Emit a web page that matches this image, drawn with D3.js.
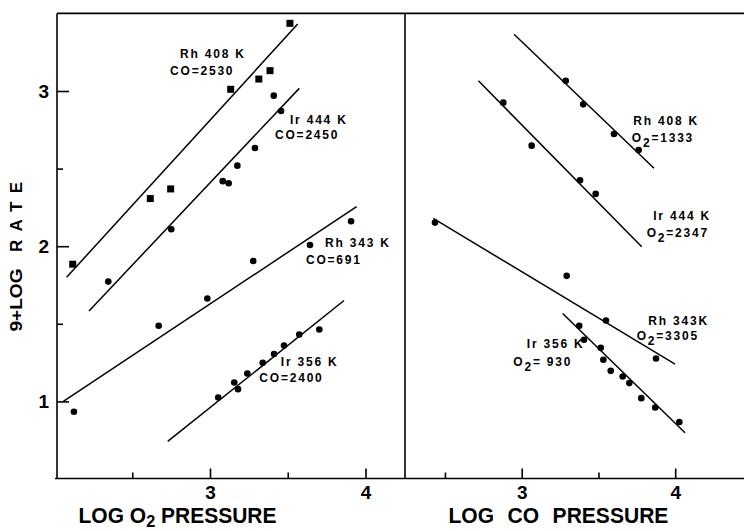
<!DOCTYPE html>
<html>
<head>
<meta charset="utf-8">
<script src="https://cdn.jsdelivr.net/npm/d3@7"></script>
<style>
  html, body { margin: 0; padding: 0; background: #fff; }
  svg { display: block; }
  text { font-family: "Liberation Sans", Arial, sans-serif; fill: #000; }
</style>
</head>
<body>
<svg id="chart" width="744" height="531"></svg>
<script>
// ---------- tick values ----------
const yTickVals = [1, 2, 3];
const yMinorVals = [1.5, 2.5];
const xTickVals = [3, 4];
const xMinorVals = [2.5, 3.5];

// ---------- left panel: log O2 pressure ----------
const o2RhHighX = [2.117, 2.616, 2.747, 3.133, 3.314, 3.386, 3.514];
const o2RhHighY = [1.884, 2.307, 2.369, 3.011, 3.077, 3.131, 3.436];
const o2RhHighFitX = [2.078, 3.564];
const o2RhHighFitY = [1.800, 3.431];

const o2IrHighX = [2.346, 2.751, 3.082, 3.120, 3.176, 3.289, 3.410, 3.457];
const o2IrHighY = [1.772, 2.109, 2.419, 2.406, 2.519, 2.633, 2.970, 2.871];
const o2IrHighFitX = [2.222, 3.574];
const o2IrHighFitY = [1.583, 3.017];

const o2RhLowX = [2.125, 2.670, 2.983, 3.278, 3.643, 3.907];
const o2RhLowY = [0.933, 1.487, 1.663, 1.905, 2.008, 2.161];
const o2RhLowFitX = [2.057, 3.943];
const o2RhLowFitY = [1.000, 2.255];

const o2IrLowX = [3.053, 3.156, 3.180, 3.240, 3.339, 3.412, 3.476, 3.574, 3.703];
const o2IrLowY = [1.025, 1.122, 1.079, 1.180, 1.249, 1.305, 1.360, 1.431, 1.463];
const o2IrLowFitX = [2.728, 3.862];
const o2IrLowFitY = [0.742, 1.650];

// ---------- right panel: log CO pressure ----------
const coRhHighX = [3.287, 3.401, 3.601, 3.762];
const coRhHighY = [3.066, 2.914, 2.723, 2.620];
const coRhHighFitX = [2.950, 3.862];
const coRhHighFitY = [3.366, 2.502];

const coIrHighX = [2.880, 3.065, 3.380, 3.482];
const coIrHighY = [2.925, 2.648, 2.425, 2.337];
const coIrHighFitX = [2.718, 3.782];
const coIrHighFitY = [3.066, 1.997];

const coRhLowX = [2.435, 3.293, 3.549, 3.875];
const coRhLowY = [2.152, 1.809, 1.521, 1.276];
const coRhLowFitX = [2.424, 3.999];
const coRhLowFitY = [2.179, 1.240];

const coIrLowX = [3.375, 3.406, 3.515, 3.532, 3.580, 3.658, 3.701, 3.779, 3.870, 4.027];
const coIrLowY = [1.487, 1.397, 1.345, 1.268, 1.197, 1.160, 1.118, 1.021, 0.961, 0.867];
const coIrLowFitX = [3.267, 4.064];
const coIrLowFitY = [1.566, 0.798];

// ---------- annotation texts (anchor in data units) ----------
const o2Labels = [
  { t: "Rh 408 K", x: 2.807, y: 3.211 },
  { t: "CO=2530", x: 2.743, y: 3.103 },
  { t: "Ir 444 K", x: 3.514, y: 2.788 },
  { t: "CO=2450", x: 3.418, y: 2.689 },
  { t: "Rh 343 K", x: 3.740, y: 1.997 },
  { t: "CO=691", x: 3.617, y: 1.886 },
  { t: "Ir 356 K", x: 3.455, y: 1.229 },
  { t: "CO=2400", x: 3.317, y: 1.122 }
];
const coLabels = [
  { t: "Rh 408 K", x: 3.727, y: 2.781 },
  { t: "O|2|=1333", x: 3.717, y: 2.674 },
  { t: "Ir 444 K", x: 3.857, y: 2.169 },
  { t: "O|2|=2347", x: 3.814, y: 2.062 },
  { t: "Rh 343K", x: 3.825, y: 1.493 },
  { t: "O|2|=3305", x: 3.749, y: 1.397 },
  { t: "Ir 356 K", x: 3.033, y: 1.343 },
  { t: "O|2|= 930", x: 2.945, y: 1.225 }
];

// ---------- scales ----------
const svg = d3.select("#chart");
const y = d3.scaleLinear().domain([0.5, 3.5]).range([479, 13.4]);
const xL = d3.scaleLinear().domain([3, 4]).range([210, 365.5]);
const xR = d3.scaleLinear().domain([3, 4]).range([521.7, 675.2]);

const leftEdge = 57, midEdge = 405, rightEdge = 744;
const topY = y(3.5), botY = y(0.5) - 0.5;

// ---------- frame ----------
const frame = svg.append("g").attr("stroke", "#000").attr("stroke-width", 1.6).attr("fill", "none");
frame.append("line").attr("x1", leftEdge).attr("x2", rightEdge).attr("y1", topY).attr("y2", topY);
frame.append("line").attr("x1", leftEdge).attr("x2", leftEdge).attr("y1", topY).attr("y2", botY);
frame.append("line").attr("x1", midEdge).attr("x2", midEdge).attr("y1", topY).attr("y2", botY);
frame.append("line").attr("x1", leftEdge - 2).attr("x2", rightEdge).attr("y1", botY).attr("y2", botY);

// ---------- axes ----------
function styleAxis(g, size) {
  g.select(".domain").remove();
  g.selectAll(".tick line").attr("stroke", "#000").attr("stroke-width", 1.6);
  g.selectAll(".tick text").attr("font-size", size).attr("font-weight", "bold")
    .attr("font-family", "'Liberation Sans', Arial, sans-serif");
}
// y axis
svg.append("g").attr("transform", `translate(${leftEdge},0)`)
  .call(d3.axisLeft(y).tickValues(yTickVals).tickSize(-12).tickPadding(8).tickFormat(d3.format("d")))
  .call(g => styleAxis(g, 19));
svg.append("g").attr("transform", `translate(${leftEdge},0)`)
  .call(d3.axisLeft(y).tickValues(yMinorVals).tickSize(-6).tickFormat(""))
  .call(g => styleAxis(g, 19));
// x axes
[xL, xR].forEach(sc => {
  svg.append("g").attr("transform", `translate(0,${botY})`)
    .call(d3.axisBottom(sc).tickValues(xTickVals).tickSize(-10).tickPadding(7).tickFormat(d3.format("d")))
    .call(g => styleAxis(g, 19));
  svg.append("g").attr("transform", `translate(0,${botY})`)
    .call(d3.axisBottom(sc).tickValues(xMinorVals).tickSize(-6).tickFormat(""))
    .call(g => styleAxis(g, 19));
});

// ---------- series drawing ----------
const lineGen = (sx) => d3.line().x(d => sx(d[0])).y(d => y(d[1]));
function drawSeries(sx, xs, ys, fx, fy, shape) {
  const g = svg.append("g");
  g.append("path").datum(d3.zip(fx, fy)).attr("d", lineGen(sx))
    .attr("fill", "none").attr("stroke", "#000").attr("stroke-width", 1.5);
  const pts = d3.zip(xs, ys);
  if (shape === "square") {
    g.selectAll("rect").data(pts).join("rect")
      .attr("x", d => sx(d[0]) - 3.5).attr("y", d => y(d[1]) - 3.5)
      .attr("width", 7).attr("height", 7).attr("fill", "#000");
  } else {
    g.selectAll("circle").data(pts).join("circle")
      .attr("cx", d => sx(d[0])).attr("cy", d => y(d[1])).attr("r", 3.3).attr("fill", "#000");
  }
}
drawSeries(xL, o2RhHighX, o2RhHighY, o2RhHighFitX, o2RhHighFitY, "square");
drawSeries(xL, o2IrHighX, o2IrHighY, o2IrHighFitX, o2IrHighFitY, "circle");
drawSeries(xL, o2RhLowX, o2RhLowY, o2RhLowFitX, o2RhLowFitY, "circle");
drawSeries(xL, o2IrLowX, o2IrLowY, o2IrLowFitX, o2IrLowFitY, "circle");
drawSeries(xR, coRhHighX, coRhHighY, coRhHighFitX, coRhHighFitY, "circle");
drawSeries(xR, coIrHighX, coIrHighY, coIrHighFitX, coIrHighFitY, "circle");
drawSeries(xR, coRhLowX, coRhLowY, coRhLowFitX, coRhLowFitY, "circle");
drawSeries(xR, coIrLowX, coIrLowY, coIrLowFitX, coIrLowFitY, "circle");

// ---------- annotations ----------
function drawLabels(sx, labels) {
  labels.forEach(l => {
    const t = svg.append("text").attr("x", sx(l.x)).attr("y", y(l.y))
      .attr("font-size", 12).attr("font-weight", "bold").attr("letter-spacing", 1.8);
    const parts = l.t.split("|");
    if (parts.length === 1) {
      t.text(l.t);
    } else {
      t.append("tspan").text(parts[0]);
      t.append("tspan").attr("dy", 5).text(parts[1]);
      t.append("tspan").attr("dy", -5).text(parts[2]);
    }
  });
}
drawLabels(xL, o2Labels);
drawLabels(xR, coLabels);

// ---------- axis titles ----------
function fitText(sel, target) {
  const w = sel.node().getComputedTextLength();
  const x0 = +sel.attr("x"), y0 = +sel.attr("y");
  sel.attr("transform", `translate(${x0},${y0}) scale(${target / w},1) translate(${-x0},${-y0})`);
}
const t1 = svg.append("text").attr("x", 78.5).attr("y", 523)
  .attr("font-size", 22).attr("font-weight", "bold");
t1.append("tspan").text("LOG O");
t1.append("tspan").attr("dy", 4).attr("font-size", 17).text("2");
t1.append("tspan").attr("dy", -4).text(" PRESSURE");
fitText(t1, 198);

const t2 = svg.append("text").attr("x", 448.5).attr("y", 523)
  .attr("font-size", 22).attr("font-weight", "bold").attr("word-spacing", 8)
  .text("LOG CO PRESSURE");
fitText(t2, 220);

// y title (rotated, two words)
svg.append("text").attr("transform", "translate(22,300) rotate(-90)")
  .attr("text-anchor", "middle").attr("font-size", 17).attr("font-weight", "bold")
  .attr("textLength", 63).attr("lengthAdjust", "spacingAndGlyphs").text("9+LOG");
svg.append("text").attr("transform", "translate(22,217) rotate(-90)")
  .attr("text-anchor", "middle").attr("font-size", 17).attr("font-weight", "bold")
  .attr("textLength", 70).attr("lengthAdjust", "spacing").text("RATE");
</script>
</body>
</html>
